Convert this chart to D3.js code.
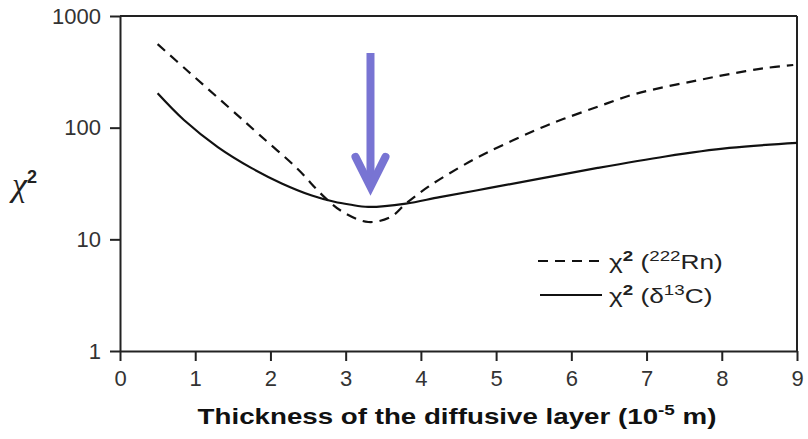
<!DOCTYPE html>
<html>
<head>
<meta charset="utf-8">
<script src="https://cdn.jsdelivr.net/npm/d3@7"></script>
<style>
  body { margin: 0; background: #fff; }
  svg { display: block; }
</style>
</head>
<body>
<svg id="chart" width="804" height="439"></svg>
<script>
// ---- data ----
const rnThickness = [0.5, 0.9, 1.45, 1.85, 2.35, 2.7, 2.95, 3.3, 3.6, 3.8, 4.1, 4.5, 4.9, 5.6, 5.9, 6.35, 6.8, 7.25, 7.7, 8.1, 8.55, 8.95];
const rnChi2       = [560, 322, 151, 86.7, 43.4, 24.5, 17.8, 14.3, 15.9, 20.9, 29.6, 43.5, 60.7, 100, 120, 154, 196, 232, 267, 302, 340, 364];
const cThickness  = [0.5, 0.85, 1.3, 1.75, 2.15, 2.55, 2.85, 3.05, 3.3, 3.8, 4.25, 4.9, 5.6, 6.35, 7.25, 8.1, 9];
const cChi2        = [203, 117, 67, 43.4, 31.7, 24.7, 21.7, 20.5, 19.5, 20.9, 23.9, 28.7, 35.1, 43.6, 55.2, 65.8, 73];
const xTicks = [0, 1, 2, 3, 4, 5, 6, 7, 8, 9];
const yTicks = [1, 10, 100, 1000];
const arrowX = 3.33;
const arrowFrom = 466, arrowTo = 29.5;

const svg = d3.select("#chart");
const x = d3.scaleLinear().domain([0, 9]).range([120, 797]);
const y = d3.scaleLog().domain([1, 1000]).range([351, 16]);

const axisColor = "#222";
const labelColor = "#333";
const font = "'Liberation Sans', Arial, sans-serif";

// axes
const yAxis = svg.append("g").attr("transform", `translate(${x(0)},0)`)
  .call(d3.axisLeft(y).tickValues(yTicks).tickFormat(d3.format("d")).tickSize(10).tickSizeOuter(0).tickPadding(9));
const xAxis = svg.append("g").attr("transform", `translate(0,${y(1)})`)
  .call(d3.axisBottom(x).tickValues(xTicks).tickFormat(d3.format("d")).tickSize(10).tickSizeOuter(0).tickPadding(9));
[yAxis, xAxis].forEach(g => {
  g.select(".domain").attr("stroke", axisColor).attr("stroke-width", 2);
  g.selectAll(".tick line").attr("stroke", axisColor).attr("stroke-width", 2);
  g.selectAll(".tick text").attr("fill", labelColor).style("font-family", font).style("font-size", "22px");
});
// frame top/right
svg.append("line").attr("x1", x(0)).attr("x2", x(9)).attr("y1", y(1000)).attr("y2", y(1000))
  .attr("stroke", axisColor).attr("stroke-width", 2);
svg.append("line").attr("x1", x(9)).attr("x2", x(9)).attr("y1", y(1000)).attr("y2", y(1))
  .attr("stroke", axisColor).attr("stroke-width", 2);

// lines
const line = d3.line().x(d => x(d[0])).y(d => y(d[1])).curve(d3.curveCatmullRom.alpha(0.5));
svg.append("path").datum(rnThickness.map((t, i) => [t, rnChi2[i]]))
  .attr("d", line).attr("fill", "none").attr("stroke", "#111").attr("stroke-width", 2.2)
  .attr("stroke-dasharray", "10,7");
svg.append("path").datum(cThickness.map((t, i) => [t, cChi2[i]]))
  .attr("d", line).attr("fill", "none").attr("stroke", "#111").attr("stroke-width", 2.2);

// arrow
const arrowColor = "#7874d3";
const ax = x(arrowX), ay0 = y(arrowFrom), ay1 = y(arrowTo);
svg.append("line").attr("x1", ax).attr("x2", ax).attr("y1", ay0).attr("y2", ay1 - 4)
  .attr("stroke", arrowColor).attr("stroke-width", 8).attr("stroke-linecap", "butt");
svg.append("path")
  .attr("d", `M${ax - 15},${ay1 - 30} L${ax},${ay1} L${ax + 15},${ay1 - 30}`)
  .attr("fill", "none").attr("stroke", arrowColor).attr("stroke-width", 8)
  .attr("stroke-linecap", "round").attr("stroke-linejoin", "miter");

// legend
const lg = svg.append("g").style("font-family", font).style("font-size", "21px").attr("fill", "#222");
lg.append("line").attr("x1", 538).attr("x2", 602).attr("y1", 261).attr("y2", 261)
  .attr("stroke", "#111").attr("stroke-width", 2.2).attr("stroke-dasharray", "10,7");
lg.append("line").attr("x1", 540).attr("x2", 602).attr("y1", 295).attr("y2", 295)
  .attr("stroke", "#111").attr("stroke-width", 2.2);
const t1 = lg.append("text").attr("transform", "translate(609,269) scale(1.25,1)");
t1.append("tspan").text("χ");
t1.append("tspan").attr("dy", -8).style("font-size", "15px").style("font-weight", "bold").text("2");
t1.append("tspan").attr("dy", 8).text(" (");
t1.append("tspan").attr("dy", -8).style("font-size", "15px").text("222");
t1.append("tspan").attr("dy", 8).text("Rn)");
const t2 = lg.append("text").attr("transform", "translate(609,303) scale(1.25,1)");
t2.append("tspan").text("χ");
t2.append("tspan").attr("dy", -8).style("font-size", "15px").style("font-weight", "bold").text("2");
t2.append("tspan").attr("dy", 8).text(" (δ");
t2.append("tspan").attr("dy", -8).style("font-size", "15px").text("13");
t2.append("tspan").attr("dy", 8).text("C)");

// y-axis title
const yt = svg.append("text").attr("x", 12).attr("y", 196).attr("fill", "#222");
yt.append("tspan").style("font-family", "'Liberation Serif', serif").style("font-size", "34px").style("font-style", "italic").text("χ");
yt.append("tspan").attr("dy", -13).style("font-family", font).style("font-size", "18px").style("font-weight", "bold").text("2");

// x-axis title
const xt = svg.append("text").attr("transform", "translate(457,424) scale(1.26,1)").attr("text-anchor", "middle")
  .style("font-family", font).style("font-size", "22px").style("font-weight", "bold").attr("fill", "#111");
xt.append("tspan").text("Thickness of the diffusive layer (10");
xt.append("tspan").attr("dy", -9).style("font-size", "15px").text("-5");
xt.append("tspan").attr("dy", 9).text(" m)");
</script>
</body>
</html>
